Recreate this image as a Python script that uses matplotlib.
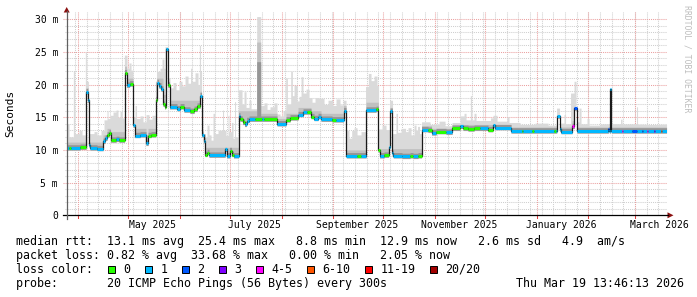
import numpy as np
import matplotlib
matplotlib.use("Agg")
import matplotlib.pyplot as plt
import matplotlib.dates as mdates
from matplotlib.patches import Polygon, Rectangle
from matplotlib.lines import Line2D
from datetime import datetime, timedelta

# ---------------- data ----------------
T0 = datetime(2025, 3, 25)      # left edge of the graph
SPAN_DAYS = 360                 # graph covers 360 days

# median RTT (ms) as a step series: days after T0, value, lost pings (of 20)
median_day = [0, 1.4, 2.6, 8.0, 11.6, 12.5, 13.2, 14.0, 18.2, 21.8,
              23.0, 24.2, 25.4, 26.3, 29.6, 31.4, 34.7, 35.9, 37.7, 40.0,
              40.7, 44.0, 47.6, 48.8, 50.6, 53.4, 54.2, 55.1, 56.6, 57.8,
              58.7, 59.3, 60.5, 61.7, 66.2, 68.0, 70.4, 74.0, 76.4, 78.2,
              80.0, 81.0, 82.1, 83.0, 84.2, 85.4, 95.0, 95.9, 97.7, 98.9,
              100.1, 103.1, 104.0, 105.5, 106.7, 107.9, 109.4, 113.0, 117.2, 118.4,
              126.2, 131.6, 134.0, 138.8, 141.8, 144.2, 146.6, 148.4, 150.8, 152.6,
              159.2, 161.6, 166.1, 167.8, 174.2, 176.6, 179.6, 185.6, 187.0, 187.7,
              190.4, 193.1, 194.0, 195.4, 196.0, 201.2, 206.0, 207.8, 210.8, 212.9,
              216.8, 218.9, 221.6, 227.6, 231.2, 236.0, 237.8, 240.8, 244.4, 248.0,
              252.8, 255.6, 256.8, 266.6, 273.4, 274.0, 279.2, 280.1, 292.4, 293.4,
              294.0, 295.7, 296.6, 303.2, 304.6, 306.2, 325.0, 325.6, 326.2, 326.8,
              333.4, 334.0, 339.4, 342.0, 345.2, 345.8, 348.2, 348.8, 352.4, 353.0,
              356.4, 357.0]
median_ms = [10.3, 10.3, 10.3, 10.4, 18.9, 17.6, 10.8, 10.3, 10.2, 11.3,
             11.8, 12.3, 12.6, 11.5, 11.6, 11.5, 21.8, 19.9, 20.1, 13.8,
             12.2, 12.3, 11.0, 12.2, 12.3, 17.7, 20.3, 19.8, 19.3, 17.0,
             16.6, 25.4, 19.9, 16.6, 16.3, 16.6, 16.1, 15.9, 16.2, 16.7,
             18.3, 12.3, 11.4, 9.3, 9.6, 9.2, 10.1, 9.1, 9.9, 9.3,
             9.1, 15.2, 14.7, 14.2, 13.9, 14.5, 14.7, 14.7, 14.7, 14.7,
             14.0, 14.6, 14.9, 15.4, 15.8, 15.8, 15.1, 14.8, 15.1, 14.7,
             14.6, 14.6, 16.0, 9.1, 9.1, 9.1, 16.1, 16.2, 10.0, 9.1,
             9.2, 10.5, 15.9, 9.5, 9.1, 9.0, 9.1, 9.0, 9.1, 13.1,
             13.0, 12.6, 12.8, 12.7, 13.3, 13.6, 13.3, 13.2, 13.3, 13.3,
             13.1, 13.8, 13.4, 12.9, 12.9, 12.9, 12.9, 12.9, 12.9, 12.9,
             15.2, 13.2, 12.8, 13.6, 16.4, 12.9, 13.2, 12.9, 19.3, 12.9,
             12.9, 12.9, 12.9, 12.9, 12.9, 12.9, 12.9, 12.9, 12.9, 12.9,
             12.9, 12.9]
median_loss = [1, 0, 1, 0, 1, 1, 1, 1, 1, 1,
               1, 0, 0, 0, 1, 0, 0, 1, 0, 1,
               1, 1, 1, 0, 0, 0, 1, 1, 1, 0,
               0, 1, 0, 1, 1, 0, 1, 0, 0, 0,
               1, 1, 1, 0, 0, 1, 1, 1, 0, 0,
               1, 1, 0, 0, 1, 1, 1, 0, 1, 0,
               1, 0, 0, 1, 1, 0, 0, 1, 1, 1,
               0, 1, 1, 1, 0, 1, 1, 0, 0, 1,
               0, 1, 1, 1, 1, 1, 0, 1, 0, 1,
               0, 1, 0, 1, 0, 1, 0, 0, 0, 1,
               0, 1, 1, 1, 0, 1, 0, 1, 0, 1,
               1, 1, 1, 4, 2, 1, 2, 1, 1, 1,
               4, 1, 2, 1, 2, 1, 4, 1, 3, 1,
               6, 1]

# smoke: highest ping (ms) as a step series
smoke_day = [0, 1.4, 4.0, 4.8, 7.4, 9.2, 11.2, 11.8, 13.0, 16.4,
             18.2, 20.6, 22.4, 24.2, 24.8, 26.0, 27.8, 29.6, 30.8, 32.0,
             33.2, 34.6, 36.2, 37.4, 38.6, 39.8, 41.0, 41.9, 44.0, 45.8,
             47.6, 49.4, 51.2, 53.2, 53.9, 54.4, 56.0, 57.2, 58.4, 59.0,
             60.8, 62.0, 63.8, 65.6, 67.4, 69.2, 71.0, 72.8, 74.3, 75.2,
             77.0, 78.8, 79.6, 80.3, 80.9, 81.8, 83.0, 84.2, 85.4, 86.6,
             87.8, 88.7, 90.8, 93.5, 94.1, 95.6, 96.8, 97.4, 98.9, 99.8,
             100.7, 101.3, 103.1, 105.2, 106.4, 107.6, 109.4, 110.6, 114.0, 116.4,
             118.4, 120.2, 122.0, 124.4, 126.2, 128.0, 129.8, 131.4, 132.4, 134.4,
             135.4, 136.4, 138.2, 139.4, 140.6, 141.8, 143.6, 145.4, 147.2, 149.0,
             151.4, 154.4, 156.8, 159.8, 161.6, 164.0, 165.8, 167.6, 169.4, 171.0,
             172.4, 174.2, 176.6, 179.3, 181.0, 182.6, 184.4, 186.2, 187.1, 189.2,
             191.6, 193.7, 195.5, 197.6, 198.5, 200.6, 203.3, 204.8, 206.6, 208.4,
             209.6, 210.5, 211.7, 212.9, 218.0, 223.4, 227.0, 231.2, 236.0, 238.4,
             239.6, 242.2, 242.9, 244.4, 245.6, 250.4, 254.3, 255.8, 258.2, 264.2,
             265.4, 272.0, 281.0, 288.8, 293.9, 295.7, 298.4, 299.3, 302.3, 304.4,
             305.6, 307.4, 308.6, 312.2, 313.4, 320.0, 326.2, 326.8, 332.3, 333.2,
             341.9, 342.5]
smoke_max_ms = [14.0, 12.0, 22.0, 12.5, 13.0, 12.3, 25.0, 20.5, 12.5, 12.8,
                12.3, 13.0, 14.6, 16.0, 14.8, 15.3, 15.8, 16.1, 15.0, 15.9,
                14.9, 24.5, 22.5, 23.3, 22.2, 15.0, 16.8, 14.8, 15.2, 14.3,
                15.4, 14.7, 15.3, 20.5, 26.1, 22.0, 22.5, 23.9, 22.5, 25.8,
                21.0, 19.5, 20.3, 19.2, 20.5, 19.8, 21.3, 20.2, 22.5, 20.5,
                21.8, 20.0, 26.0, 22.0, 14.5, 12.5, 12.0, 13.8, 12.3, 11.5,
                15.6, 12.5, 13.0, 16.1, 13.0, 12.2, 15.3, 12.8, 14.2, 11.8,
                17.4, 12.0, 19.2, 17.0, 18.9, 16.5, 17.6, 16.3, 30.4, 16.8,
                17.2, 16.2, 16.6, 17.2, 15.5, 15.2, 16.0, 21.0, 17.0, 22.0,
                18.3, 19.9, 17.5, 18.2, 21.2, 18.7, 19.3, 18.0, 17.3, 18.0,
                17.9, 17.0, 17.6, 16.8, 17.8, 16.9, 17.6, 13.0, 11.8, 13.0,
                13.4, 12.3, 12.8, 19.7, 21.7, 20.6, 21.3, 19.9, 13.2, 13.8,
                13.1, 17.6, 12.5, 15.6, 12.7, 13.3, 12.8, 13.4, 12.3, 13.8,
                13.0, 13.6, 12.5, 14.3, 13.9, 14.4, 13.7, 14.2, 15.2, 15.6,
                14.6, 18.3, 14.6, 15.6, 14.5, 14.5, 14.9, 15.3, 14.4, 15.1,
                14.2, 13.9, 14.1, 13.8, 16.4, 14.1, 15.4, 14.0, 18.7, 20.5,
                14.3, 16.4, 14.0, 14.8, 13.8, 14.0, 19.3, 14.0, 14.7, 14.0,
                16.6, 13.9]

# smoke: denser middle part of the ping distribution (ms)
smoke_mid_day = [0, 11.6, 13.2, 21.8, 24.2, 26.3, 34.7, 35.9, 40.0, 47.6,
                 48.8, 53.4, 57.8, 59.3, 60.5, 61.7, 80.0, 81.0, 83.0, 103.1,
                 114.0, 116.4, 126.2, 131.6, 138.8, 146.6, 152.6, 166.1, 167.8, 179.6,
                 187.0, 194.0, 195.4, 212.9, 218.9, 231.2, 266.6, 303.2, 306.2]
smoke_mid_ms = [11.2, 19.5, 11.2, 12.3, 13.3, 12.8, 22.8, 21.0, 13.3, 12.3,
                13.3, 21.0, 18.5, 25.6, 20.5, 17.6, 19.0, 13.0, 10.4, 16.0,
                26.5, 15.6, 14.8, 15.6, 16.5, 16.0, 15.6, 16.8, 10.0, 17.3,
                10.2, 16.5, 10.2, 13.7, 13.3, 13.9, 13.5, 14.5, 13.5]

# smoke: dense core (dark) – only notable in the early-July burst
smoke_core_day = [0, 114.0, 116.4]
smoke_core_ms = [0.0, 23.5, 0.0]

ytick_values = [0, 5, 10, 15, 20, 25, 30]
ytick_labels = ['0', '5 m', '10 m', '15 m', '20 m', '25 m', '30 m']
xlabel_months = [(2025, 5), (2025, 7), (2025, 9), (2025, 11), (2026, 1), (2026, 3)]
xtick_labels = ['May 2025', 'July 2025', 'September 2025', 'November 2025',
                'January 2026', 'March 2026']

legend_rows = [
    "median rtt:  13.1 ms avg  25.4 ms max   8.8 ms min  12.9 ms now   2.6 ms sd   4.9  am/s",
    "packet loss: 0.82 % avg  33.68 % max   0.00 % min   2.05 % now",
    "loss color:",
    "probe:       20 ICMP Echo Pings (56 Bytes) every 300s",
]
timestamp = "Thu Mar 19 13:46:13 2026"
loss_labels = ['0', '1', '2', '3', '4-5', '6-10', '11-19', '20/20']
loss_limits = [0, 1, 2, 3, 5, 10, 19, 20]
loss_colors = ['#26ff00', '#00b8ff', '#0059ff', '#7e00ff', '#ff00ff',
               '#ff5500', '#ff0000', '#a10000']

# ---------------- drawing ----------------
MONO = 'DejaVu Sans Mono'
W, H = 697, 297
fig = plt.figure(figsize=(W / 100, H / 100), dpi=100)
fig.patch.set_facecolor('white')

def fx(px):
    return px / W

def fy(py):
    return 1 - py / H

AX_L, AX_R, AX_B, AX_T = 66.7, 666.7, 215.3, 12.0
ax = fig.add_axes([fx(AX_L), fy(AX_B), (AX_R - AX_L) / W, (AX_B - AX_T) / H])
ax.set_facecolor('white')
t0 = mdates.date2num(T0)
t1 = t0 + SPAN_DAYS
ax.set_xlim(t0, t1)
ax.set_ylim(0, 31.1)
for s in ax.spines.values():
    s.set_visible(False)

# grid
minor_c, major_c = '#cfcfcf', '#eba0a0'
dots = (0, (1, 1))
ext = -3.5 / (AX_R - AX_L)
for y in range(1, 31):
    major = (y % 5 == 0)
    ax.plot([ext if major else -2 / 600, 1.0], [y, y], transform=ax.get_yaxis_transform(),
            color=major_c if major else minor_c, lw=0.75, ls=dots, zorder=1 if major else 0.5,
            clip_on=False)
d = T0
while d.weekday() != 6:
    d += timedelta(days=1)
while d < T0 + timedelta(days=SPAN_DAYS):
    ax.axvline(mdates.date2num(d), color=minor_c, lw=0.75, ls=dots, zorder=0.5)
    d += timedelta(days=7)
month_lines = []
y_, m_ = 2025, 4
while True:
    dt = datetime(y_, m_, 1)
    if dt > T0 + timedelta(days=SPAN_DAYS):
        break
    month_lines.append(mdates.date2num(dt))
    m_ += 1
    if m_ > 12:
        m_, y_ = 1, y_ + 1
for xm in month_lines:
    ax.axvline(xm, color=major_c, lw=0.75, ls=dots, zorder=1)
    ax.plot([xm, xm], [-0.45, 0], color='#e04040', lw=0.75, clip_on=False, zorder=1)

# smoke
grid = np.arange(0, SPAN_DAYS, 0.1)

def step_at(days, vals, g):
    idx = np.searchsorted(np.asarray(days), g, side='right') - 1
    return np.asarray(vals, dtype=float)[np.clip(idx, 0, None)]

med_g = step_at(median_day, median_ms, grid)
hi_g = np.maximum(step_at(smoke_day, smoke_max_ms, grid), med_g)
mid_g = np.minimum(np.maximum(step_at(smoke_mid_day, smoke_mid_ms, grid), med_g), hi_g)
core_g = np.minimum(np.maximum(step_at(smoke_core_day, smoke_core_ms, grid), med_g + 0.5), mid_g)
xg = t0 + grid
ax.fill_between(xg, med_g - 0.35, hi_g, step='post', color='#dadada', lw=0, zorder=2)
ax.fill_between(xg, med_g - 0.3, mid_g, step='post', color='#c0c0c0', lw=0, zorder=3)
ax.fill_between(xg, med_g - 0.3, np.minimum(core_g, hi_g), step='post', color='#969696', lw=0, zorder=4)

# median line
xm_ = t0 + np.array(median_day, dtype=float)
xe = np.append(xm_, t1)
ax.step(xe, np.append(median_ms, median_ms[-1]), where='post', color='#1a1a1a', lw=0.9, zorder=5)

def loss_color(n):
    for lim, c in zip(loss_limits, loss_colors):
        if n <= lim:
            return c
    return loss_colors[-1]

for i in range(len(median_day)):
    ax.hlines(median_ms[i], xe[i], xe[i + 1], colors=loss_color(median_loss[i]),
              lw=2.2, zorder=6, capstyle='butt')

# ticks
ax.set_yticks(ytick_values, ytick_labels)
ax.set_yticks(range(0, 31), minor=True)
ax.tick_params(axis='y', which='major', length=0, pad=6.2, labelsize=7, labelcolor='black')
ax.tick_params(axis='y', which='minor', length=0)
for lbl in ax.get_yticklabels():
    lbl.set_fontfamily(MONO)
xl = [mdates.date2num(datetime(yy, mm, 15, 12)) for yy, mm in xlabel_months]
ax.set_xticks(xl, xtick_labels)
ax.tick_params(axis='x', which='both', length=0, pad=3.2, labelsize=7, labelcolor='black')
for lbl in ax.get_xticklabels():
    lbl.set_fontfamily(MONO)

# axis lines and arrows
fig.add_artist(Line2D([fx(62.7), fx(668)], [fy(AX_B), fy(AX_B)], color='black', lw=0.9))
fig.add_artist(Line2D([fx(AX_L), fx(AX_L)], [fy(219), fy(11)], color='#606060', lw=0.9))
fig.add_artist(Polygon([[fx(63.7), fy(12.5)], [fx(69.7), fy(12.5)], [fx(66.7), fy(7)]],
                       closed=True, color='#8b1010', lw=0))
fig.add_artist(Polygon([[fx(667.5), fy(212.3)], [fx(667.5), fy(218.3)], [fx(673.5), fy(215.3)]],
                       closed=True, color='#8b1010', lw=0))

# titles
fig.text(fx(10.5), fy(113.5), 'Seconds', rotation=90, ha='center', va='center',
         fontsize=8, family=MONO, color='black')
fig.text(fx(687.5), fy(59), 'RRDTOOL / TOBI OETIKER', rotation=270, ha='center', va='center',
         fontsize=5.9, family=MONO, color='#bdbdbd')

# legend
row_y = [241.7, 255.0, 269.3, 283.3]
for txt, yy in zip(legend_rows, row_y):
    fig.text(fx(16.2), fy(yy), txt, ha='left', va='center', fontsize=8.37, family=MONO, color='black')
fig.text(fx(684), fy(row_y[3]), timestamp, ha='right', va='center', fontsize=8.37, family=MONO,
         color='black')
bx = 108.3
for lab, col in zip(loss_labels, loss_colors):
    fig.add_artist(Rectangle((fx(bx), fy(row_y[2] + 3.6)), 7 / W, 7.2 / H, facecolor=col,
                             edgecolor='black', lw=0.7))
    fig.text(fx(bx + 15), fy(row_y[2]), lab, ha='left', va='center', fontsize=8.37, family=MONO,
             color='black')
    bx += 7 * len(lab) + 30

fig.savefig('out.png', dpi=100, facecolor='white')
